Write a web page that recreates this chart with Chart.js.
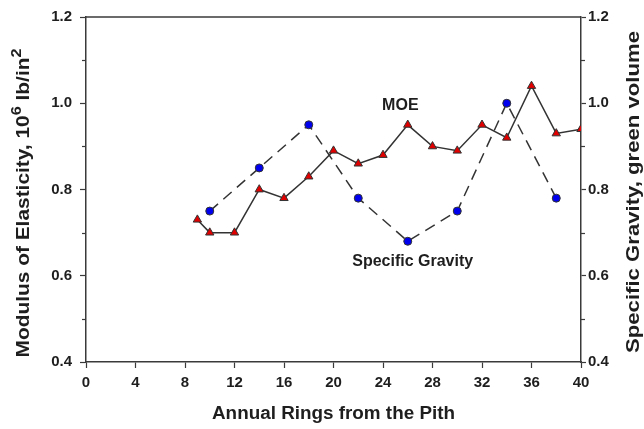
<!DOCTYPE html>
<html>
<head>
<meta charset="utf-8">
<script src="https://cdn.jsdelivr.net/npm/chart.js@4.4.0/dist/chart.umd.min.js"></script>
<style>
html,body{margin:0;padding:0;background:#fff;}
#wrap{width:644px;height:429px;position:relative;}
</style>
</head>
<body>
<div id="wrap"><canvas id="c" width="644" height="429"></canvas></div>
<script>
// Data
const moeRings = [9,10,12,14,16,18,20,22,24,26,28,30,32,34,36,38,40];
const moeValues = [0.73,0.70,0.70,0.80,0.78,0.83,0.89,0.86,0.88,0.95,0.90,0.89,0.95,0.92,1.04,0.93,0.94];
const sgRings = [10,14,18,22,26,30,34,38];
const sgValues = [0.75,0.85,0.95,0.78,0.68,0.75,1.00,0.78];
const xTicks = [0,4,8,12,16,20,24,28,32,36,40];
const yTicks = [0.4,0.6,0.8,1.0,1.2];
const yMinorTicks = [0.5,0.7,0.9,1.1];
const seriesLabels = [
  {text:'MOE', x:25.4, y:0.995},
  {text:'Specific Gravity', x:26.4, y:0.632}
];
const xTitle = 'Annual Rings from the Pith';
const yTitleParts = ['Modulus of Elasticity, 10', '6', ' lb/in', '2'];
const y2Title = 'Specific Gravity, green volume';

const FONT = "'Liberation Sans', Arial, sans-serif";
const AXIS = '#3a3a3a';
const TXT = '#1e1e1e';

// draw text stretched along its baseline to a target length
function stretchedText(ctx, segs, cx, cy, angle, targetLen){
  let total = 0;
  segs.forEach(s=>{ctx.font=s.f; s.w=ctx.measureText(s.t).width; total+=s.w;});
  const k = targetLen ? targetLen/total : 1;
  ctx.save();
  ctx.translate(cx, cy);
  ctx.rotate(angle);
  ctx.scale(k, 1);
  ctx.textAlign='left'; ctx.textBaseline='middle';
  let px = -total/2;
  segs.forEach(s=>{ctx.font=s.f; ctx.fillText(s.t, px, s.dy||0); px+=s.w;});
  ctx.restore();
}

const extras = {
  id:'extras',
  afterDraw(chart){
    const ctx = chart.ctx, a = chart.chartArea;
    const y = chart.scales.y, x = chart.scales.x;
    ctx.save();
    // top frame line
    ctx.strokeStyle = AXIS; ctx.lineWidth = 1.5;
    ctx.beginPath(); ctx.moveTo(a.left, a.top); ctx.lineTo(a.right, a.top); ctx.stroke();
    // minor ticks
    ctx.lineWidth = 1.2;
    yMinorTicks.forEach(v=>{
      const py = Math.round(y.getPixelForValue(v))+0.5;
      ctx.beginPath(); ctx.moveTo(a.left-4, py); ctx.lineTo(a.left, py); ctx.stroke();
      ctx.beginPath(); ctx.moveTo(a.right, py); ctx.lineTo(a.right+4, py); ctx.stroke();
    });
    ctx.fillStyle = TXT;
    // series labels
    ctx.textAlign = 'center'; ctx.textBaseline = 'middle';
    ctx.font = "bold 16px " + FONT;
    seriesLabels.forEach(l=>{
      ctx.fillText(l.text, x.getPixelForValue(l.x), y.getPixelForValue(l.y));
    });
    // x title
    stretchedText(ctx, [{t:xTitle, f:"bold 18px "+FONT}], (a.left+a.right)/2 - 0, 414, 0, 243);
    // left title with superscripts
    stretchedText(ctx, [
      {t:yTitleParts[0], f:"bold 18px "+FONT},
      {t:yTitleParts[1], f:"bold 14px "+FONT, dy:-7},
      {t:yTitleParts[2], f:"bold 18px "+FONT},
      {t:yTitleParts[3], f:"bold 14px "+FONT, dy:-7}
    ], 24, 203, -Math.PI/2, 309);
    // right title
    stretchedText(ctx, [{t:y2Title, f:"bold 18px "+FONT}], 634, 192, -Math.PI/2, 322);
    ctx.restore();
  }
};

const tickFont = {family:FONT, size:15, weight:'bold'};

new Chart(document.getElementById('c'), {
  type:'line',
  data:{
    datasets:[
      {
        label:'MOE',
        data: moeRings.map((r,i)=>({x:r, y:moeValues[i]})),
        yAxisID:'y',
        borderColor:'#333', borderWidth:1.5,
        pointStyle:'triangle', pointRadius:4.8,
        pointBackgroundColor:'#e00000', pointBorderColor:'#333', pointBorderWidth:1,
        tension:0
      },
      {
        label:'Specific Gravity',
        data: sgRings.map((r,i)=>({x:r, y:sgValues[i]})),
        yAxisID:'y2',
        borderColor:'#333', borderWidth:1.5, borderDash:[11,7],
        pointStyle:'circle', pointRadius:4,
        pointBackgroundColor:'#0000ee', pointBorderColor:'#333', pointBorderWidth:1,
        tension:0
      }
    ]
  },
  options:{
    responsive:false, animation:false,
    layout:{padding:{top:15,left:0,right:0,bottom:0}},
    plugins:{legend:{display:false}, tooltip:{enabled:false}},
    scales:{
      x:{
        type:'linear', position:'bottom', min:0, max:40,
        afterBuildTicks(s){ s.ticks = xTicks.map(v=>({value:v})); },
        afterFit(s){ s.height = 67; },
        ticks:{font:tickFont, color:TXT, padding:6, maxRotation:0, autoSkip:false},
        grid:{drawOnChartArea:false, drawTicks:true, tickLength:6, color:AXIS, tickWidth:1.2},
        border:{display:true, color:AXIS, width:1.5},
        title:{display:false}
      },
      y:{
        type:'linear', position:'left', min:0.4, max:1.2,
        afterBuildTicks(s){ s.ticks = yTicks.map(v=>({value:v})); },
        afterFit(s){ s.width = 86; },
        ticks:{font:tickFont, color:TXT, padding:8, callback:v=>v.toFixed(1)},
        grid:{drawOnChartArea:false, drawTicks:true, tickLength:6, color:AXIS, tickWidth:1.2},
        border:{display:true, color:AXIS, width:1.5}
      },
      y2:{
        type:'linear', position:'right', min:0.4, max:1.2,
        afterBuildTicks(s){ s.ticks = yTicks.map(v=>({value:v})); },
        afterFit(s){ s.width = 63; },
        ticks:{font:tickFont, color:TXT, padding:2, callback:v=>v.toFixed(1)},
        grid:{drawOnChartArea:false, drawTicks:true, tickLength:5, color:AXIS, tickWidth:1.2},
        border:{display:true, color:AXIS, width:1.5}
      }
    }
  },
  plugins:[extras]
});
</script>
</body>
</html>
